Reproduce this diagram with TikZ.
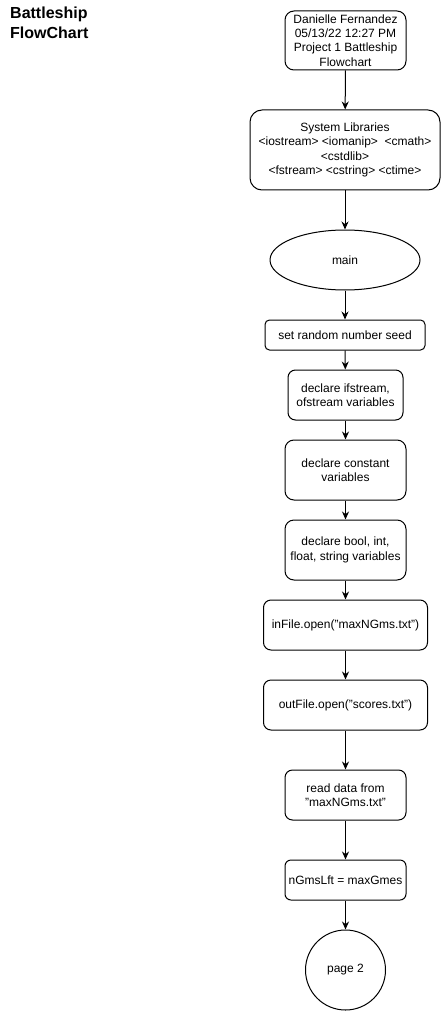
\documentclass[tikz,border=0pt]{standalone}
\usepackage{fontspec}
\setmainfont{Liberation Sans}
\usetikzlibrary{arrows.meta,shapes.geometric}
\begin{document}
\begin{tikzpicture}[x=1pt,y=-1pt,
  base/.style={draw,line width=1pt,align=center,inner sep=0pt,font=\fontsize{12}{14.4}\selectfont},
  box/.style={base,rounded corners=#1},
  box/.default=8pt,
  arr/.style={-{Stealth[length=8pt,width=7pt]},line width=1pt}]
\useasboundingbox[fill=white] (0,0) rectangle (441,1011);
\node[anchor=north west,align=left,inner sep=0pt,font=\bfseries\fontsize{16}{20}\selectfont] (title) at (10,7) {Battleship\\FlowChart};
\node[box=9pt,minimum width=121pt,minimum height=59pt] (a) at (345.5,40.5) {Danielle Fernandez\\05/13/22 12:27 PM\\Project 1 Battleship\\Flowchart};
\node[box=12pt,minimum width=190pt,minimum height=80pt] (b) at (345,150) {System Libraries\\<iostream> <iomanip>\ \ <cmath>\\<cstdlib>\\<fstream> <cstring> <ctime>};
\node[base,ellipse,minimum width=150pt,minimum height=60pt] (c) at (345,260) {main};
\node[box=4.5pt,minimum width=160pt,minimum height=30pt] (d) at (345,335) {set random number seed};
\node[box=7.5pt,minimum width=115pt,minimum height=50pt] (e) at (345.5,395) {declare ifstream,\\ofstream variables};
\node[box=9pt,minimum width=121pt,minimum height=60pt] (f) at (345.5,470) {declare constant\\variables};
\node[box=9pt,minimum width=121pt,minimum height=60pt] (g) at (345.5,550) {declare bool, int,\\float, string variables};
\node[box=7.5pt,minimum width=164pt,minimum height=50pt] (h) at (345.5,625) {inFile.open("maxNGms.txt")};
\node[box=7.5pt,minimum width=164pt,minimum height=50pt] (i) at (345.5,705) {outFile.open("scores.txt")};
\node[box=7.5pt,minimum width=121pt,minimum height=50pt] (j) at (345.5,795) {read data from\\"maxNGms.txt"};
\node[box=6pt,minimum width=121pt,minimum height=40pt] (k) at (345.5,880) {nGmsLft = maxGmes};
\node[base,circle,minimum size=80pt] (l) at (345.5,970) {page 2};
\foreach \s/\t in {a/b,b/c,c/d,d/e,e/f,f/g,g/h,h/i,i/j,j/k,k/l}
  \draw[arr] (\s) -- (\t);
\end{tikzpicture}
\end{document}
